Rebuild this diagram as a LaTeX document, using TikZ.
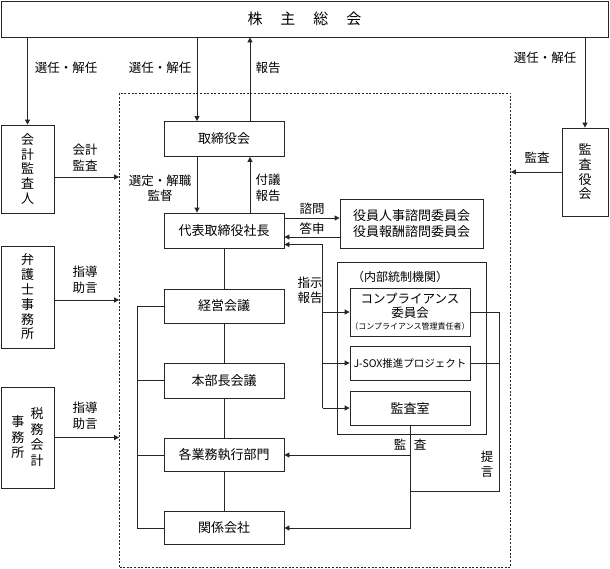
\documentclass[tikz,border=0pt]{standalone}
\usepackage{fontspec}
\setmainfont{Noto Sans CJK JP}
\usetikzlibrary{arrows.meta,calc}
\begin{document}
\begin{tikzpicture}[x=1pt,y=-1pt,
  box/.style={draw=black!85,line width=0.8pt,fill=white,inner sep=0pt,align=center,font=\fontsize{13}{15}\selectfont},
  lbl/.style={inner sep=0pt,align=center,font=\fontsize{12.5}{15.5}\selectfont},
  ln/.style={draw=black!85,line width=0.8pt},
  arr/.style={ln,-{Triangle[length=5pt,width=5pt]}},
  dbox/.style={draw=black!85,line width=0.8pt,dash pattern=on 2pt off 1.6pt}
]
\useasboundingbox (0,0) rectangle (610,568);
% dashed area
\node[dbox,minimum width=391pt,minimum height=474pt,inner sep=0pt] (dash) at (315,330) {};
% top
\node[box,minimum width=607pt,minimum height=36pt,font=\fontsize{15}{16}\selectfont] (top) at (304.5,19) {株\hspace{1.2em}主\hspace{1.2em}総\hspace{1.2em}会};
% left boxes
\node[box,minimum width=53pt,minimum height=88pt,font=\fontsize{13}{14.6}\selectfont] (kaikei) at (27.5,169) {会\\計\\監\\査\\人};
\node[box,minimum width=53pt,minimum height=102pt,font=\fontsize{13}{14.8}\selectfont] (bengo) at (27.5,297) {弁\\護\\士\\事\\務\\所};
\node[box,minimum width=53pt,minimum height=101pt] (zeimu) at (27.5,437.5) {};
\node[lbl,font=\fontsize{13}{15.5}\selectfont] (zeimuR) at (37,437) {税\\務\\会\\計};
\node[lbl,font=\fontsize{13}{15.5}\selectfont] (zeimuL) at (18,437.5) {事\\務\\所};
% right box
\node[box,minimum width=46pt,minimum height=88pt,font=\fontsize{13}{14.6}\selectfont] (kansayaku) at (585,172) {監\\査\\役\\会};
% centre column
\node[box,minimum width=120pt,minimum height=35pt] (tori) at (224,139) {取締役会};
\node[box,minimum width=120pt,minimum height=35pt] (daihyo) at (224,230.5) {代表取締役社長};
\node[box,minimum width=120pt,minimum height=34pt] (keiei) at (224,306) {経営会議};
\node[box,minimum width=120pt,minimum height=35pt] (honbu) at (224,380.5) {本部長会議};
\node[box,minimum width=120pt,minimum height=33pt] (gyomu) at (224,455) {各業務執行部門};
\node[box,minimum width=120pt,minimum height=33pt] (kankei) at (224,528) {関係会社};
% right column
\node[box,minimum width=143pt,minimum height=49pt,font=\fontsize{13}{16}\selectfont] (yakuin) at (411.5,223.5) {役員人事諮問委員会\\役員報酬諮問委員会};
\node[box,minimum width=149pt,minimum height=172pt] (naibu) at (411.5,348) {};
\node[lbl,font=\fontsize{12}{14}\selectfont] (naibut) at (400,277) {（内部統制機関）};
\node[box,minimum width=120pt,minimum height=48pt,font=\fontsize{12.5}{13.5}\selectfont] (comp) at (410,312) {コンプライアンス\\委員会\\[-1pt]{\fontsize{8}{9}\selectfont（コンプライアンス管理責任者）}};
\node[box,minimum width=120pt,minimum height=34pt,font=\fontsize{10.5}{13}\selectfont] (jsox) at (410,363) {J-SOX推進プロジェクト};
\node[box,minimum width=120pt,minimum height=34pt] (shitsu) at (410,408) {監査室};
% helper coordinates
\coordinate (a1) at ([xshift=-27pt]tori.north);
\coordinate (a2) at ([xshift=26pt]tori.north);
\coordinate (b1) at ([xshift=-27pt]tori.south);
\coordinate (b2) at ([xshift=26pt]tori.south);
\coordinate (ctl) at ([xshift=-27pt]shitsu.west);
\coordinate (rt) at ([xshift=29pt]comp.east);
\coordinate (j) at (410,491);
\coordinate (lb) at ([xshift=-26pt]keiei.west);
\coordinate (ke) at ([yshift=-8pt]kaikei.east);
\coordinate (be) at ([yshift=-3pt]bengo.east);
\coordinate (d1) at ([yshift=12.5pt]daihyo.east);
\coordinate (d2) at ([yshift=-6.5pt]daihyo.east);
\coordinate (d3) at ([yshift=-14pt]daihyo.east);
% top arrows
\draw[arr] (top.south -| kaikei.north) -- (kaikei.north);
\draw[arr] (top.south -| a1) -- (a1);
\draw[arr] (a2) -- (top.south -| a2);
\draw[arr] (top.south -| kansayaku.north) -- (kansayaku.north);
\node[lbl] (l1) at (66,68) {選任・解任};
\node[lbl] (l2) at (160,68) {選任・解任};
\node[lbl] (l3) at (268,68) {報告};
\node[lbl] (l4) at (545,58) {選任・解任};
% tori <-> daihyo
\draw[arr] (b1) -- (b1 |- daihyo.north);
\draw[arr] (b2 |- daihyo.north) -- (b2);
\node[lbl] (l5) at (160,188) {選定・解職\\監督};
\node[lbl] (l6) at (268,188) {付議\\報告};
% outside to dashed area
\draw[arr] (ke) -- (dash.west |- ke);
\node[lbl] (l7) at (85,157.5) {会計\\監査};
\draw[arr] (be) -- (dash.west |- be);
\node[lbl] (l8) at (85,279.5) {指導\\助言};
\draw[arr] (zeimu.east) -- (dash.west |- zeimu.east);
\node[lbl] (l9) at (85,415.5) {指導\\助言};
\draw[arr] (kansayaku.west) -- (dash.east |- kansayaku.west);
\node[lbl] (l10) at (537,158) {監査};
% daihyo <-> yakuin
\draw[arr] (d1) -- (yakuin.west |- d1);
\draw[arr] (yakuin.west |- d2) -- (d2);
\node[lbl] (l11) at (312,209) {諮問};
\node[lbl] (l12) at (312,228.5) {答申};
% instructions / reports
\draw[arr] (ctl) |- (d3);
\draw[arr] (ctl |- comp.west) -- (comp.west);
\draw[arr] (ctl |- jsox.west) -- (jsox.west);
\draw[arr] (ctl) -- (shitsu.west);
\node[lbl] (l13) at (310,290.5) {指示\\報告};
% proposals
\draw[ln] (comp.east) -- (rt) -- (rt |- j) -- (j);
\draw[ln] (jsox.east) -- (rt |- jsox.east);
\node[lbl] (l14) at (487,464) {提\\言};
% audit
\draw[arr] (shitsu.south) |- (kankei.east);
\draw[arr] (shitsu.south |- gyomu.east) -- (gyomu.east);
\node[lbl] (l15) at (410,445) {監\hspace{0.6em}査};
% main chain
\draw[ln] (daihyo.south) -- (keiei.north);
\draw[ln] (keiei.south) -- (honbu.north);
\draw[ln] (honbu.south) -- (gyomu.north);
\draw[ln] (gyomu.south) -- (kankei.north);
\draw[ln] (keiei.west) -- (lb) |- (kankei.west);
\draw[ln] (honbu.west) -- (lb |- honbu.west);
\draw[ln] (gyomu.west) -- (lb |- gyomu.west);
\end{tikzpicture}
\end{document}
